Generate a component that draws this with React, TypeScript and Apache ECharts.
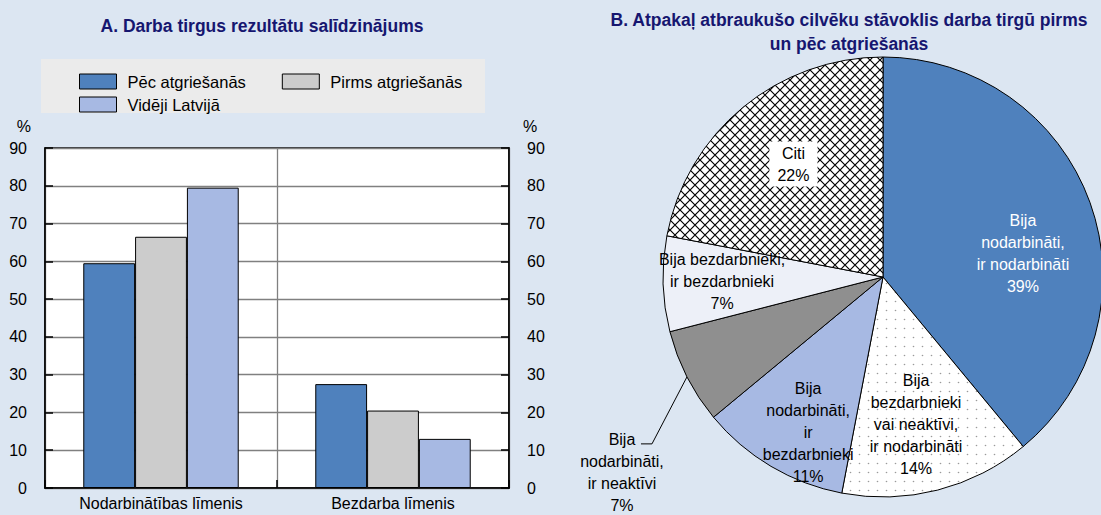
import React, { useEffect, useRef } from 'react';
import * as echarts from 'echarts';

// ---------- data ----------
const barCategories = ['Nodarbinātības līmenis', 'Bezdarba līmenis'];
const barSeriesNames = ['Pēc atgriešanās', 'Pirms atgriešanās', 'Vidēji Latvijā'];
const afterReturn = [59.5, 27.5];
const beforeReturn = [66.5, 20.5];
const latviaAverage = [79.5, 13];
const yMin = 0;
const yMax = 90;
const yInterval = 10;

const pieNames = [
  'Bija nodarbināti, ir nodarbināti',
  'Bija bezdarbnieki vai neaktīvi, ir nodarbināti',
  'Bija nodarbināti, ir bezdarbnieki',
  'Bija nodarbināti, ir neaktīvi',
  'Bija bezdarbnieki, ir bezdarbnieki',
  'Citi',
];
const pieValues = [39, 14, 11, 7, 7, 22];
const pieLabels = [
  'Bija\nnodarbināti,\nir nodarbināti\n39%',
  'Bija\nbezdarbnieki\nvai neaktīvi,\nir nodarbināti\n14%',
  'Bija\nnodarbināti,\nir\nbezdarbnieki\n11%',
  'Bija\nnodarbināti,\nir neaktīvi\n7%',
  'Bija bezdarbnieki,\nir bezdarbnieki\n7%',
  'Citi\n22%',
];

const titleA = 'A. Darba tirgus rezultātu salīdzinājums';
const titleB = 'B. Atpakaļ atbraukušo cilvēku stāvoklis darba tirgū pirms\nun pēc atgriešanās';

// ---------- styles ----------
const FONT = "'Liberation Sans', Arial, Helvetica, sans-serif";
const BG = '#DCE6F2';
const NAVY = '#161670';
const BLUE = '#4F81BD';
const GRAY = '#CCCCCC';
const LIGHTBLUE = '#A7B9E3';

const svgUrl = (s: string) => 'data:image/svg+xml;charset=utf-8,' + encodeURIComponent(s);
const crossHatch = {
  image: svgUrl(
    '<svg xmlns="http://www.w3.org/2000/svg" width="10" height="10"><rect width="10" height="10" fill="#ffffff"/><path d="M-1 -1L11 11M11 -1L-1 11" stroke="#000000" stroke-width="1.2"/></svg>'
  ),
  repeat: 'repeat',
  imageWidth: 10,
  imageHeight: 10,
};
const dotted = {
  image: svgUrl(
    '<svg xmlns="http://www.w3.org/2000/svg" width="9" height="9"><rect width="9" height="9" fill="#ffffff"/><circle cx="4.5" cy="4.5" r="0.8" fill="#9a9a9a"/></svg>'
  ),
  repeat: 'repeat',
  imageWidth: 9,
  imageHeight: 9,
};
const pieFills: any[] = [BLUE, dotted, LIGHTBLUE, '#8F8F8F', '#EDF0F8', crossHatch];
const pieLabelColors = ['#ffffff', '#000', '#000', '#000', '#000', '#000'];
// label shift from the library's default inside position (px)
const pieLabelNudge = [[-4, 28], [-5, -1], [3, 24], [0, 0], [-8, 0], [8, 5]];

export default function App() {
  const ref = useRef<HTMLDivElement>(null);
  useEffect(() => {
    if (!ref.current) return;
    const chart = echarts.init(ref.current, null, { renderer: 'svg' });
    const axisLabelStyle = { fontSize: 16, color: '#000', fontFamily: FONT };
    const legendCommon = {
      left: 74,
      itemWidth: 37,
      itemHeight: 15,
      itemGap: 36,
      icon: 'rect',
      orient: 'horizontal',
      selectedMode: false,
      textStyle: { fontSize: 16.5, color: '#000', fontFamily: FONT, padding: [0, 0, 0, 6] },
      itemStyle: { borderColor: '#000', borderWidth: 1 },
    };
    const barSeries = [afterReturn, beforeReturn, latviaAverage].map((vals, i) => ({
      type: 'bar',
      name: barSeriesNames[i],
      data: vals,
      xAxisIndex: 0,
      yAxisIndex: 0,
      barGap: '0%',
      barCategoryGap: '33%',
      itemStyle: { color: [BLUE, GRAY, LIGHTBLUE][i], borderColor: '#000', borderWidth: 1 },
      silent: true,
    }));
    const option: any = {
      animation: false,
      backgroundColor: BG,
      textStyle: { fontFamily: FONT },
      title: [
        {
          text: titleA,
          left: 257,
          top: 12,
          textAlign: 'center',
          textStyle: { fontSize: 17.5, fontWeight: 'bold', color: NAVY, fontFamily: FONT },
        },
        {
          text: titleB,
          left: 844,
          top: 3,
          textAlign: 'center',
          textStyle: { fontSize: 17.5, fontWeight: 'bold', color: NAVY, fontFamily: FONT, lineHeight: 24 },
        },
      ],
      graphic: [
        {
          type: 'rect',
          z: -10,
          shape: { x: 41, y: 59, width: 444, height: 54 },
          style: { fill: '#EBEBEB' },
          silent: true,
        },
      ],
      legend: [
        { ...legendCommon, top: 68, data: [barSeriesNames[0], barSeriesNames[1]] },
        { ...legendCommon, top: 91, data: [barSeriesNames[2]] },
      ],
      grid: {
        left: 45,
        right: 592,
        top: 148,
        bottom: 27,
        show: true,
        backgroundColor: '#ffffff',
        borderColor: '#000',
        borderWidth: 1.5,
      },
      xAxis: {
        type: 'category',
        data: barCategories,
        axisLine: { lineStyle: { color: '#000', width: 1.5 } },
        axisTick: { show: true, inside: true, length: 8, lineStyle: { color: '#000', width: 1.5 } },
        axisLabel: { ...axisLabelStyle, margin: 7 },
        splitLine: { show: true, lineStyle: { color: '#808080', width: 1.3 } },
      },
      yAxis: [
        {
          type: 'value',
          min: yMin,
          max: yMax,
          interval: yInterval,
          position: 'left',
          name: '%',
          nameLocation: 'end',
          nameGap: 14,
          nameTextStyle: { ...axisLabelStyle, align: 'right', padding: [0, 14, 0, 0] },
          axisLine: { show: true, lineStyle: { color: '#000', width: 1.5 } },
          axisTick: { show: true, inside: true, length: 8, lineStyle: { color: '#000', width: 1.5 } },
          axisLabel: { ...axisLabelStyle, margin: 18 },
          splitLine: { show: true, lineStyle: { color: '#808080', width: 1.3 } },
        },
        {
          type: 'value',
          min: yMin,
          max: yMax,
          interval: yInterval,
          position: 'right',
          name: '%',
          nameLocation: 'end',
          nameGap: 14,
          nameTextStyle: { ...axisLabelStyle, align: 'left', padding: [0, 0, 0, 14] },
          axisLine: { show: true, lineStyle: { color: '#000', width: 1.5 } },
          axisTick: { show: true, inside: true, length: 8, lineStyle: { color: '#000', width: 1.5 } },
          axisLabel: { ...axisLabelStyle, margin: 18 },
          splitLine: { show: false },
        },
      ],
      series: [
        ...barSeries,
        {
          type: 'pie',
          name: 'pie',
          center: [883, 277],
          radius: [0, 220],
          startAngle: 90,
          clockwise: true,
          silent: true,
          avoidLabelOverlap: false,
          data: pieValues.map((v, i) => ({
            value: v,
            name: pieNames[i],
            itemStyle: { color: pieFills[i] },
            label: { show: i === 3 },
            labelLine: { show: i === 3 },
          })),
          itemStyle: { borderColor: '#000', borderWidth: 1 },
          label: {
            show: false,
            position: 'outside',
            formatter: (p: any) => pieLabels[p.dataIndex],
            fontSize: 16,
            lineHeight: 22,
            color: '#000',
            fontFamily: FONT,
            align: 'center',
          },
          labelLine: { show: false, length: 30, length2: 10, lineStyle: { color: '#000', width: 1 } },
          labelLayout: (p: any) => {
            if (p.dataIndex !== 3 || !p.labelLinePoints) return {};
            const x0 = p.labelLinePoints[0][0];
            const y0 = p.labelLinePoints[0][1];
            return {
              x: x0 - 65,
              y: y0 + 52,
              align: 'center',
              verticalAlign: 'top',
              labelLinePoints: [
                [x0, y0],
                [x0 - 35, y0 + 67],
                [x0 - 46, y0 + 67],
              ],
            };
          },
        },
        {
          type: 'pie',
          name: 'pieLabels',
          center: [883, 277],
          radius: [80, 220],
          startAngle: 90,
          clockwise: true,
          silent: true,
          avoidLabelOverlap: false,
          itemStyle: { color: 'rgba(0,0,0,0)', borderWidth: 0 },
          data: pieValues.map((v, i) => ({
            value: v,
            name: pieNames[i],
            label: {
              show: i !== 3,
              color: pieLabelColors[i],
              ...(i === 5 ? { backgroundColor: '#ffffff', padding: [1, 8, 0, 8] } : {}),
            },
          })),
          label: {
            show: true,
            position: 'inside',
            formatter: (p: any) => pieLabels[p.dataIndex],
            fontSize: 16,
            lineHeight: 22,
            fontFamily: FONT,
            align: 'center',
            rotate: 0,
          },
          labelLine: { show: false },
          labelLayout: (p: any) => {
            const r = p.labelRect || p.rect;
            const n = pieLabelNudge[p.dataIndex];
            return {
              x: r.x + r.width / 2 + n[0],
              y: r.y + r.height / 2 + n[1],
              align: 'center',
              verticalAlign: 'middle',
            };
          },
        },
      ],
    };
    chart.setOption(option);
    return () => chart.dispose();
  }, []);
  return (
    <div
      ref={ref}
      style={{ position: 'fixed', left: 0, top: 0, width: 1101, height: 515, background: BG }}
    />
  );
}
